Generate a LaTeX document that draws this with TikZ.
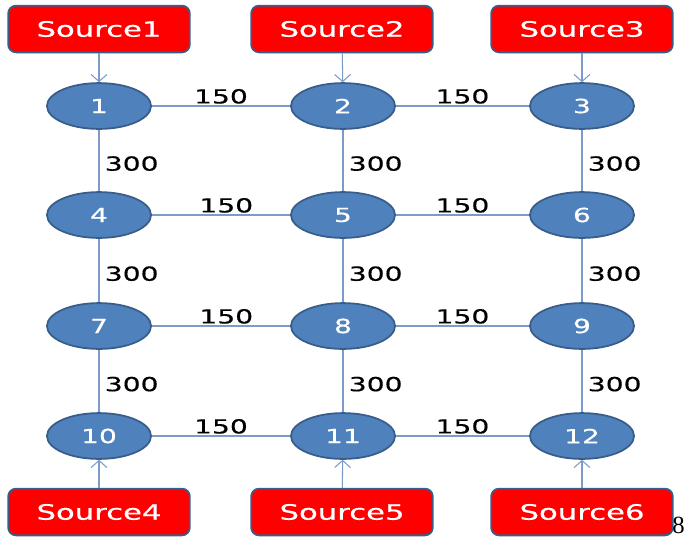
\documentclass[tikz,border=0pt]{standalone}
\usepackage{fontspec}
\setmainfont{Liberation Serif}
\newfontfamily\labelfont[FakeStretch=1.45,FakeBold=0.5]{DejaVu Sans}
\usepackage{tikz}
\usetikzlibrary{positioning,arrows.meta,shapes.geometric}
\usepackage{xcolor}
\definecolor{nodefill}{RGB}{79,129,189}
\definecolor{nodeline}{RGB}{56,93,138}
\definecolor{srcfill}{RGB}{255,0,0}
\definecolor{linkline}{RGB}{124,155,200}

\begin{document}
\begin{tikzpicture}[x=0.567pt, y=-0.567pt,
  junction/.style={draw=nodeline, fill=nodefill, ellipse, line width=1pt, inner sep=0pt,
    minimum width=59pt, minimum height=26pt, text=white, font=\labelfont\fontsize{11}{13}\selectfont},
  source/.style={draw=nodeline, fill=srcfill, rectangle, rounded corners=4.5pt, line width=1pt,
    minimum width=103pt, minimum height=26.5pt, text=white, font=\labelfont\fontsize{12}{14}\selectfont},
  link/.style={draw=linkline, line width=0.6pt},
  feed/.style={draw=linkline, line width=0.6pt, -{Straight Barb[length=4pt,width=9pt]}},
  weight/.style={font=\labelfont\fontsize{11}{13}\selectfont, text=black, inner sep=1pt}
]
\useasboundingbox (0,0) rectangle (686,536);
% sources
\node[source] (src1) at (99,29) {Source1};
\node[source] (src2) at (342,29) {Source2};
\node[source] (src3) at (582,29) {Source3};
\node[source] (src4) at (99,512) {Source4};
\node[source] (src5) at (342,512) {Source5};
\node[source] (src6) at (582,512) {Source6};
% junctions
\node[junction] (n1) at (99,106) {1};
\node[junction] (n2) at (343,106) {2};
\node[junction] (n3) at (582,106) {3};
\node[junction] (n4) at (99,215) {4};
\node[junction] (n5) at (343,215) {5};
\node[junction] (n6) at (582,215) {6};
\node[junction] (n7) at (99,326) {7};
\node[junction] (n8) at (343,326) {8};
\node[junction] (n9) at (582,326) {9};
\node[junction] (n10) at (99,436) {10};
\node[junction] (n11) at (343,436) {11};
\node[junction] (n12) at (582,436) {12};
% feeds
\draw[feed] (src1) -- (n1); \draw[feed] (src2) -- (n2); \draw[feed] (src3) -- (n3);
\draw[feed] (src4) -- (n10); \draw[feed] (src5) -- (n11); \draw[feed] (src6) -- (n12);
% horizontal pipes
\draw[link] (n1) -- node[weight, above] {150} (n2);
\draw[link] (n2) -- node[weight, above] {150} (n3);
\draw[link] (n4) -- node[weight, above, xshift=3pt] {150} (n5);
\draw[link] (n5) -- node[weight, above] {150} (n6);
\draw[link] (n7) -- node[weight, above, xshift=3pt] {150} (n8);
\draw[link] (n8) -- node[weight, above] {150} (n9);
\draw[link] (n10) -- node[weight, above] {150} (n11);
\draw[link] (n11) -- node[weight, above] {150} (n12);
% vertical pipes
\draw[link] (n1) -- node[weight, right=2pt, pos=0.55] {300} (n4);
\draw[link] (n2) -- node[weight, right=2pt, pos=0.55] {300} (n5);
\draw[link] (n3) -- node[weight, right=2pt, pos=0.55] {300} (n6);
\draw[link] (n4) -- node[weight, right=2pt, pos=0.55] {300} (n7);
\draw[link] (n5) -- node[weight, right=2pt, pos=0.55] {300} (n8);
\draw[link] (n6) -- node[weight, right=2pt, pos=0.55] {300} (n9);
\draw[link] (n7) -- node[weight, right=2pt, pos=0.55] {300} (n10);
\draw[link] (n8) -- node[weight, right=2pt, pos=0.55] {300} (n11);
\draw[link] (n9) -- node[weight, right=2pt, pos=0.55] {300} (n12);
% page number
\node[anchor=base west, inner sep=0pt, font=\fontsize{14}{16}\selectfont] (pagenum) at (672,533) {8};
\end{tikzpicture}
\end{document}
